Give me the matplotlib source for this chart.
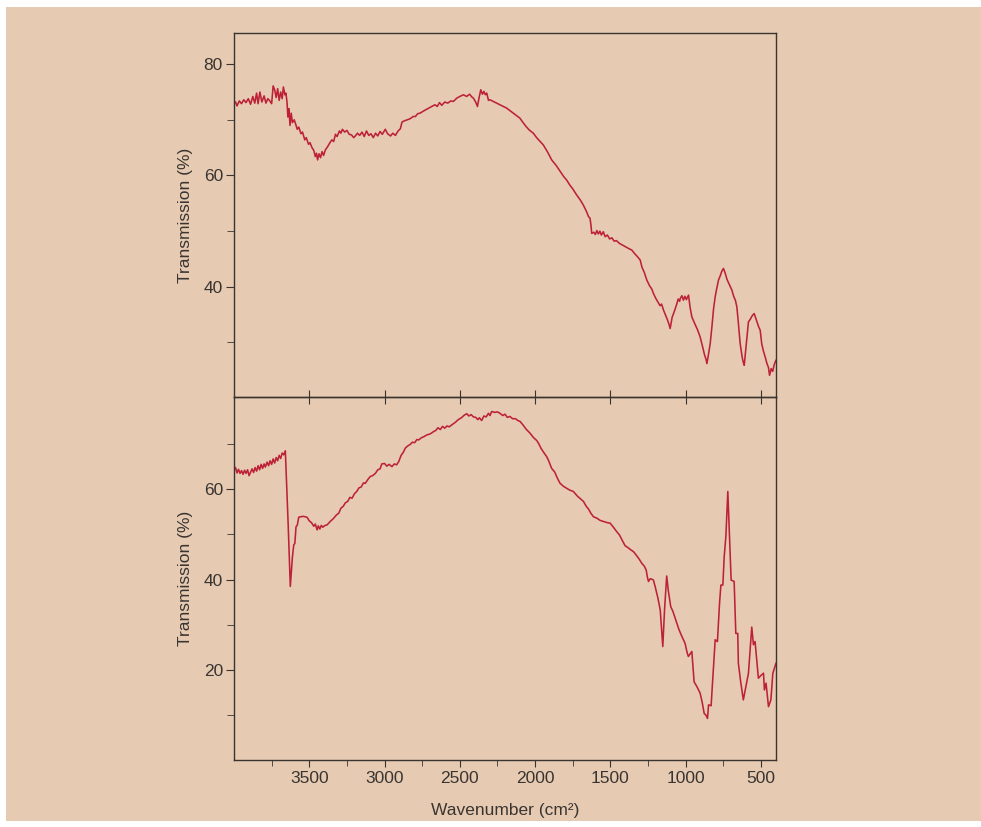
import matplotlib
matplotlib.use('Agg')
import matplotlib.pyplot as plt
from matplotlib.patches import Rectangle

plt.rcParams['font.family'] = ['Liberation Sans', 'DejaVu Sans']

# Espectro superior (numero de onda en cm-1, transmision en %)
onda_sup = [3990, 3980, 3965, 3950, 3935, 3920, 3905, 3890, 3875, 3862, 3850, 3840, 3828, 3815, 3800, 3788,
            3775, 3762, 3750, 3740, 3730, 3720, 3710, 3700, 3690, 3680, 3672, 3662, 3655, 3648, 3642, 3635,
            3628, 3620, 3612, 3600, 3590, 3580, 3570, 3555, 3545, 3530, 3520, 3505, 3495, 3482, 3470, 3460,
            3452, 3445, 3435, 3425, 3415, 3405, 3393, 3380, 3365, 3350, 3338, 3326, 3315, 3300, 3290, 3280,
            3265, 3250, 3235, 3220, 3205, 3194, 3180, 3165, 3150, 3135, 3120, 3105, 3090, 3075, 3060, 3045,
            3030, 3015, 2995, 2980, 2960, 2945, 2928, 2910, 2895, 2884, 2870, 2850, 2830, 2810, 2795, 2780,
            2764, 2740, 2720, 2700, 2680, 2665, 2650, 2635, 2620, 2600, 2580, 2560, 2543, 2520, 2500, 2476,
            2455, 2435, 2420, 2410, 2395, 2383, 2372, 2361, 2350, 2340, 2330, 2321, 2310, 2300, 2270, 2240,
            2210, 2189, 2160, 2130, 2101, 2080, 2060, 2040, 2012, 1990, 1970, 1946, 1930, 1915, 1890, 1860,
            1830, 1810, 1791, 1770, 1750, 1724, 1700, 1680, 1660, 1645, 1635, 1628, 1624, 1610, 1600, 1590,
            1580, 1570, 1560, 1547, 1535, 1520, 1505, 1490, 1475, 1460, 1440, 1420, 1400, 1380, 1358, 1340,
            1320, 1302, 1290, 1275, 1258, 1240, 1225, 1214, 1200, 1185, 1170, 1160, 1147, 1135, 1120, 1110,
            1103, 1090, 1075, 1065, 1058, 1050, 1040, 1036, 1025, 1015, 1005, 995, 981, 970, 959, 940,
            920, 904, 890, 875, 865, 859, 850, 837, 825, 815, 804, 795, 782, 770, 760, 749,
            738, 725, 710, 693, 680, 670, 660, 650, 638, 625, 618, 611, 600, 590, 583, 570,
            558, 545, 530, 515, 505, 495, 484, 472, 460, 450, 443, 432, 422, 412, 405, 400]
trans_sup = [73.2, 72.5, 73.4, 72.9, 73.6, 73.1, 73.8, 72.8, 74.2, 73.0, 74.8, 72.9, 75.0, 73.2, 74.3, 73.0,
             73.8, 73.4, 72.9, 76.1, 75.4, 74.0, 75.6, 73.5, 75.0, 73.8, 75.9, 74.5, 74.8, 73.2, 70.5, 72.0,
             69.0, 71.2, 69.5, 70.0, 69.2, 68.3, 68.7, 67.5, 67.8, 66.4, 66.8, 65.6, 65.9, 65.0, 64.5, 63.4,
             64.0, 62.8, 63.9, 63.2, 64.3, 63.6, 64.6, 65.1, 65.8, 66.4, 66.1, 67.4, 67.0, 68.0, 67.6, 68.3,
             67.8, 68.1, 67.4, 67.3, 66.8, 67.1, 67.6, 67.2, 67.8, 67.0, 68.0, 67.2, 67.5, 66.8, 67.6, 67.1,
             67.9, 67.4, 68.3, 67.5, 67.1, 67.6, 67.2, 68.0, 68.4, 69.6, 69.8, 70.0, 70.2, 70.6, 70.6, 71.1,
             71.2, 71.6, 71.9, 72.2, 72.5, 72.7, 72.4, 73.1, 72.6, 73.2, 73.0, 73.4, 73.3, 73.9, 74.2, 74.5,
             74.2, 74.6, 74.1, 73.9, 73.2, 72.4, 74.0, 75.4, 74.6, 75.1, 74.5, 74.8, 73.5, 73.6, 73.2, 72.8,
             72.4, 72.1, 71.5, 70.9, 70.3, 69.5, 68.8, 68.2, 67.6, 66.8, 66.2, 65.5, 64.8, 64.1, 62.8, 61.8,
             60.6, 59.8, 59.2, 58.3, 57.6, 56.5, 55.6, 54.7, 53.6, 52.6, 52.3, 50.8, 49.6, 49.8, 49.4, 50.1,
             49.5, 50.0, 49.3, 49.9, 49.0, 49.3, 48.6, 48.8, 48.2, 48.3, 47.8, 47.5, 47.2, 46.9, 46.6, 46.0,
             45.4, 44.8, 43.5, 42.6, 41.2, 40.2, 39.6, 38.8, 38.0, 37.3, 36.6, 36.9, 35.8, 35.0, 34.0, 33.2,
             32.5, 34.5, 35.6, 36.4, 37.0, 37.8, 37.4, 37.9, 38.4, 37.6, 38.3, 37.7, 38.5, 36.2, 34.6, 33.4,
             32.2, 31.0, 29.5, 27.8, 27.0, 26.2, 27.6, 29.8, 33.0, 36.0, 38.2, 39.5, 41.2, 42.0, 42.8, 43.3,
             42.5, 41.3, 40.4, 39.4, 38.2, 37.6, 36.4, 33.5, 29.8, 27.4, 26.5, 25.9, 29.0, 32.0, 33.7, 34.2,
             34.8, 35.2, 34.0, 32.8, 32.2, 29.8, 28.5, 27.4, 26.2, 25.5, 24.1, 25.3, 24.8, 26.0, 26.5, 26.8]

# Espectro inferior
onda_inf = [4000, 3990, 3980, 3970, 3960, 3950, 3940, 3930, 3920, 3910, 3900, 3892, 3880, 3870, 3860, 3850,
            3840, 3830, 3820, 3810, 3800, 3792, 3780, 3770, 3760, 3750, 3740, 3730, 3720, 3710, 3700, 3690,
            3680, 3670, 3659, 3640, 3626, 3612, 3603, 3596, 3588, 3580, 3570, 3559, 3540, 3515, 3500, 3485,
            3470, 3460, 3448, 3440, 3430, 3420, 3410, 3395, 3382, 3360, 3340, 3320, 3304, 3290, 3275, 3260,
            3245, 3230, 3216, 3200, 3185, 3170, 3155, 3140, 3128, 3110, 3095, 3080, 3061, 3045, 3030, 3018,
            3000, 2985, 2970, 2951, 2935, 2920, 2906, 2890, 2875, 2862, 2845, 2830, 2815, 2800, 2785, 2773,
            2755, 2740, 2720, 2700, 2689, 2677, 2660, 2645, 2630, 2615, 2600, 2585, 2570, 2555, 2530, 2510,
            2490, 2470, 2454, 2440, 2425, 2410, 2395, 2380, 2370, 2355, 2340, 2325, 2310, 2300, 2288, 2270,
            2250, 2234, 2215, 2200, 2185, 2167, 2150, 2130, 2115, 2100, 2080, 2060, 2034, 2010, 1990, 1978,
            1960, 1940, 1923, 1910, 1890, 1870, 1850, 1834, 1810, 1790, 1770, 1746, 1720, 1700, 1679, 1660,
            1645, 1630, 1612, 1590, 1568, 1540, 1520, 1502, 1480, 1460, 1440, 1420, 1402, 1380, 1365, 1347,
            1330, 1310, 1291, 1275, 1262, 1254, 1247, 1235, 1225, 1214, 1200, 1185, 1169, 1160, 1152, 1140,
            1126, 1115, 1099, 1085, 1070, 1059, 1045, 1030, 1015, 1004, 990, 982, 970, 959, 944, 925,
            904, 890, 877, 865, 855, 848, 831, 818, 804, 789, 775, 766, 753, 744, 733, 720,
            709, 698, 678, 667, 654, 650, 635, 617, 600, 583, 561, 550, 539, 517, 500, 483,
            477, 466, 450, 434, 421, 400]
trans_inf = [64.3, 64.8, 63.6, 64.4, 63.5, 64.1, 63.3, 64.2, 63.5, 64.3, 63.0, 63.6, 64.5, 63.7, 64.8, 64.0,
             65.2, 64.3, 65.5, 64.6, 65.6, 64.9, 66.0, 65.2, 66.3, 65.5, 66.7, 65.8, 67.0, 66.3, 67.5, 66.8,
             68.0, 67.6, 68.5, 52.0, 38.5, 45.0, 47.7, 48.0, 51.7, 52.0, 53.8, 53.9, 54.0, 53.8, 53.0, 52.6,
             51.8, 52.3, 51.0, 51.9, 51.2, 52.0, 51.6, 52.0, 52.1, 52.9, 53.5, 54.3, 54.7, 55.8, 56.2, 57.0,
             57.3, 58.2, 58.0, 59.0, 59.5, 60.3, 60.5, 61.4, 61.3, 62.2, 62.8, 63.0, 63.5, 64.3, 64.5, 65.6,
             65.7, 65.1, 65.5, 65.0, 65.6, 65.4, 66.1, 67.5, 68.2, 69.1, 69.6, 69.9, 70.4, 70.3, 71.0, 70.9,
             71.4, 71.6, 72.0, 72.2, 72.4, 72.7, 73.0, 73.6, 73.2, 73.9, 73.5, 74.0, 73.8, 74.2, 74.8, 75.4,
             75.8, 76.4, 76.7, 76.2, 76.5, 76.0, 75.9, 75.4, 75.8, 75.2, 76.2, 76.0, 76.8, 76.3, 77.2, 77.0,
             77.1, 76.8, 76.3, 76.6, 75.9, 76.1, 75.6, 75.6, 75.2, 75.0, 74.2, 73.3, 72.4, 71.4, 70.8, 70.2,
             69.0, 68.0, 67.2, 66.3, 64.6, 63.8, 62.3, 61.3, 60.6, 60.2, 59.8, 59.5, 58.5, 57.9, 57.3, 56.2,
             55.6, 54.7, 53.9, 53.6, 53.1, 52.8, 52.6, 52.5, 51.6, 50.7, 49.9, 48.6, 47.5, 47.0, 46.6, 46.2,
             45.5, 44.6, 43.6, 43.0, 42.1, 40.5, 39.6, 40.2, 40.1, 39.9, 38.1, 36.0, 33.3, 29.0, 25.2, 33.5,
             40.8, 37.5, 34.0, 33.0, 31.5, 30.4, 29.0, 27.8, 26.7, 25.9, 23.8, 23.0, 23.6, 24.1, 17.4, 16.3,
             14.9, 12.8, 10.4, 10.0, 9.3, 12.3, 12.1, 19.0, 26.7, 26.3, 34.8, 38.8, 38.8, 45.1, 49.5, 59.5,
             50.0, 39.9, 39.6, 28.1, 28.1, 21.5, 17.5, 13.4, 16.3, 19.3, 29.5, 25.6, 26.3, 18.2, 18.8, 19.3,
             15.6, 17.1, 11.9, 13.4, 19.3, 21.5]

marcas_x = [3500, 3000, 2500, 2000, 1500, 1000, 500]
marcas_x_menores = [3750, 3250, 2750, 2250, 1750, 1250, 750]

color_fondo = '#E6CBB2'
color_linea = '#BD2138'
color_texto = '#3a3431'

fig = plt.figure(figsize=(9.81, 8.27), dpi=100)
fig.patch.set_facecolor('white')
# Fondo beige del papel (con borde blanco arriba e izquierda)
fondo = Rectangle((6 / 981, 6 / 827), 1, 1 - 13 / 827, transform=fig.transFigure,
                  facecolor=color_fondo, edgecolor='none', zorder=-10)
fig.patches.append(fondo)

ax1 = fig.add_axes([234 / 981, 1 - 397 / 827, 542 / 981, 364 / 827])
ax2 = fig.add_axes([234 / 981, 1 - 760 / 827, 542 / 981, 363 / 827])

ax1.plot(onda_sup, trans_sup, color=color_linea, lw=1.15)
ax2.plot(onda_inf, trans_inf, color=color_linea, lw=1.15)

ax1.set_ylim(20.2, 85.6)
ax2.set_ylim(0.1, 80.4)
ax1.set_yticks([40, 60, 80])
ax1.set_yticks([30, 50, 70], minor=True)
ax2.set_yticks([20, 40, 60])
ax2.set_yticks([10, 30, 50, 70], minor=True)

for ax in (ax1, ax2):
    ax.set_facecolor('none')
    ax.set_xlim(4000, 400)
    ax.set_xticks(marcas_x)
    for s in ax.spines.values():
        s.set_color(color_texto)
        s.set_linewidth(1.0)
    ax.tick_params(axis='y', which='both', direction='out', color=color_texto, labelcolor=color_texto,
                   labelsize=12.5, pad=2)
    ax.tick_params(axis='y', which='major', length=6)
    ax.tick_params(axis='y', which='minor', length=5)
    ax.set_ylabel('Transmission (%)', fontsize=12.5, color=color_texto, labelpad=8)

# Eje x: solo el panel inferior lleva etiquetas
ax1.tick_params(axis='x', which='major', direction='in', bottom=True, top=False, labelbottom=False,
                length=5, color=color_texto)
ax2.set_xticks(marcas_x_menores, minor=True)
ax2.tick_params(axis='x', which='major', direction='out', bottom=True, length=5, color=color_texto,
                labelcolor=color_texto, labelsize=12.5, pad=3)
ax2.tick_params(axis='x', which='minor', direction='out', bottom=True, length=4, color=color_texto)
ax2.set_xticklabels([str(m) for m in marcas_x])
ax2.set_xlabel('Wavenumber (cm²)', fontsize=12.5, color=color_texto, labelpad=12)

# Marcas hacia adentro en el borde superior del panel inferior
ax2_arriba = ax2.secondary_xaxis('top')
ax2_arriba.set_xticks(marcas_x)
ax2_arriba.tick_params(axis='x', direction='in', length=5, color=color_texto, labeltop=False)
ax2_arriba.spines['top'].set_visible(False)

fig.savefig('out.png', dpi=100, facecolor=fig.get_facecolor())
